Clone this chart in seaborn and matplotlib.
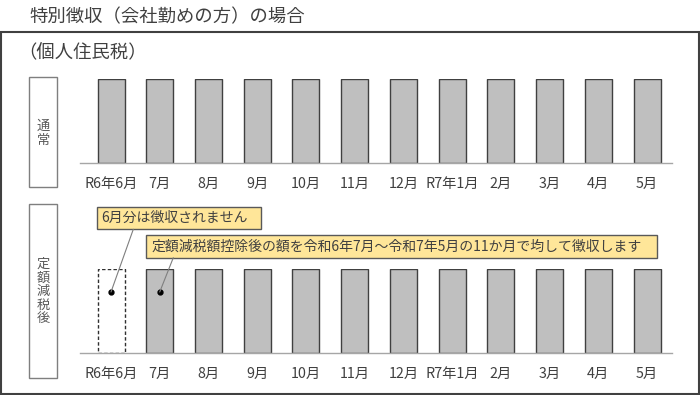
import matplotlib
matplotlib.use("Agg")
import matplotlib.pyplot as plt
from matplotlib.patches import Rectangle, ConnectionPatch
import seaborn as sns

# ---- data ----
months = ["R6年6月", "7月", "8月", "9月", "10月", "11月", "12月",
          "R7年1月", "2月", "3月", "4月", "5月"]
normal_tax = [100, 100, 100, 100, 100, 100, 100, 100, 100, 100, 100, 100]
reduced_tax = [0, 100, 100, 100, 100, 100, 100, 100, 100, 100, 100, 100]

title = "特別徴収（会社勤めの方）の場合"
subtitle = "（個人住民税）"
row_labels = ["通常", "定額減税後"]
note_june = "6月分は徴収されません"
note_rest = "定額減税額控除後の額を令和6年7月～令和7年5月の11か月で均して徴収します"

sns.set_style("white")
plt.rcParams['font.family'] = ['Noto Sans CJK JP', 'DejaVu Sans']

W, H = 700, 395
fig = plt.figure(figsize=(W / 100, H / 100), dpi=100)
fig.patch.set_facecolor("white")


def fx(px):
    return px / W


def fy(py_top):
    # convert top-based pixel y to figure fraction
    return (H - py_top) / H


def rect_px(x0, y0_top, x1, y1_top, **kw):
    r = Rectangle((fx(x0), fy(y1_top)), fx(x1) - fx(x0), fy(y0_top) - fy(y1_top),
                  transform=fig.transFigure, **kw)
    fig.add_artist(r)
    return r


TXT = "#404040"
BAR_FILL = "#bfbfbf"
BAR_EDGE = "#404040"
BASE = "#a6a6a6"

# outer frame
rect_px(1, 31.7, 699, 394, fill=False, edgecolor="#404040", linewidth=1.5)

fig.text(fx(29), fy(17), title, fontsize=13.2, ha="left", va="center", color=TXT)
fig.text(fx(18), fy(52), subtitle, fontsize=13.2, ha="left", va="center", color=TXT)

# geometry of bar axes
left_px, right_px = 80, 671.7
unit = (647 - 111) / 11.0
xl0 = (left_px - 111) / unit
xl1 = xl0 + (right_px - left_px) / unit
bar_w = 27 / unit


def make_ax(base_top, top_top):
    ax = fig.add_axes([fx(left_px), fy(base_top), fx(right_px) - fx(left_px),
                       fy(top_top) - fy(base_top)])
    return ax


def style_ax(ax):
    ax.set_xlim(xl0, xl1)
    ax.set_ylim(0, 100)
    for s in ["top", "right", "left"]:
        ax.spines[s].set_visible(False)
    ax.spines["bottom"].set_color(BASE)
    ax.spines["bottom"].set_linewidth(1.0)
    ax.set_yticks([])
    ax.set_xticks(range(len(months)), months)
    ax.tick_params(axis="x", length=0, pad=9.8, labelsize=10.3, labelcolor=TXT)
    ax.set_xlabel("")
    ax.set_ylabel("")
    ax.set_facecolor("none")


# top panel
ax1 = make_ax(163.3, 79.3)
sns.barplot(x=months, y=normal_tax, ax=ax1, color=BAR_FILL, saturation=1,
            width=bar_w, edgecolor=BAR_EDGE, linewidth=1.0)
style_ax(ax1)

# bottom panel
ax2 = make_ax(353.3, 269.3)
sns.barplot(x=months, y=reduced_tax, ax=ax2, color=BAR_FILL, saturation=1,
            width=bar_w, edgecolor=BAR_EDGE, linewidth=1.0)
for p, v in zip(ax2.patches, reduced_tax):
    if v == 0:
        p.set_visible(False)
# dashed outline for the uncollected month
ax2.bar(0, normal_tax[0], width=bar_w, fill=False, edgecolor="#303030",
        linestyle=(0, (2.5, 1.6)), linewidth=1.0)
style_ax(ax2)

# row label boxes (vertical text)
def vbox(x0, y0, x1, y1, label, center_top):
    rect_px(x0, y0, x1, y1, fill=False, edgecolor="#7f7f7f", linewidth=1.0)
    pitch = 13.5
    n = len(label)
    start = center_top - pitch * (n - 1) / 2
    for i, ch in enumerate(label):
        fig.text(fx((x0 + x1) / 2), fy(start + i * pitch), ch, fontsize=9.5,
                 ha="center", va="center", color="#595959")


vbox(29, 76.7, 57, 187.3, row_labels[0], 133.5)
vbox(29, 204.3, 57, 377.7, row_labels[1], 291.5)

# callouts
CALL_FILL = "#ffe699"
CALL_EDGE = "#595959"
rect_px(97.3, 207.3, 260.7, 229.3, facecolor=CALL_FILL, edgecolor=CALL_EDGE, linewidth=1.0)
fig.text(fx(101.5), fy(218.3), note_june, fontsize=10, ha="left", va="center", color=TXT)
rect_px(145.7, 235, 656.7, 257.7, facecolor=CALL_FILL, edgecolor=CALL_EDGE, linewidth=1.0)
fig.text(fx(151.5), fy(246.3), note_rest, fontsize=10, ha="left", va="center", color=TXT)

dot_y = 73
for xi, (sx, sy) in zip([0, 1], [(133.3, 229.3), (173.3, 257.7)]):
    con = ConnectionPatch(xyA=(fx(sx), fy(sy)), coordsA=fig.transFigure,
                          xyB=(xi, dot_y), coordsB=ax2.transData,
                          color="#7f7f7f", linewidth=0.8)
    fig.add_artist(con)
    ax2.plot([xi], [dot_y], marker="o", markersize=3.5, color="black",
             clip_on=False, zorder=5)

fig.savefig("out.png", dpi=100)
